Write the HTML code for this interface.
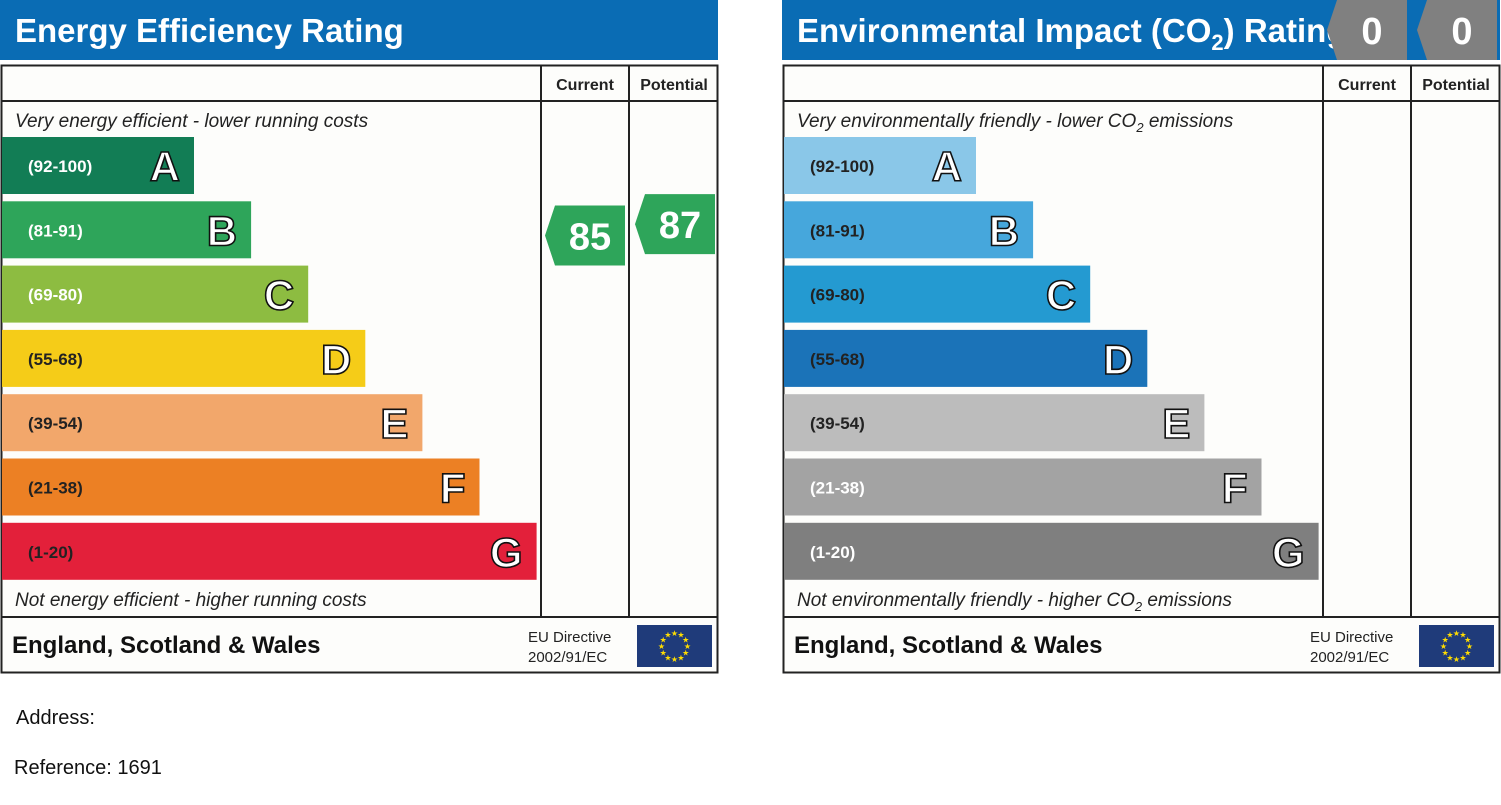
<!DOCTYPE html>
<html><head><meta charset="utf-8"><style>
html,body{margin:0;padding:0;background:#fff;width:1501px;height:805px;overflow:hidden;font-family:"Liberation Sans",sans-serif}
svg text{font-family:"Liberation Sans",sans-serif}
</style></head><body>
<svg id="chart" width="1501" height="805" xmlns="http://www.w3.org/2000/svg">
<rect width="1501" height="805" fill="#fff"/>
</svg>
<script>
const bandLetters = ['A','B','C','D','E','F','G'];
const bandRanges = ['(92-100)','(81-91)','(69-80)','(55-68)','(39-54)','(21-38)','(1-20)'];
const bandLo = [92,81,69,55,39,21,1];
const bandHi = [100,91,80,68,54,38,20];
const eeColors = ['#127d55','#2ea55a','#8dbc41','#f5cc18','#f2a76b','#ec8024','#e3203a'];
const eiColors = ['#8ac7e8','#46a7dc','#249ad1','#1b73b8','#bcbcbc','#a3a3a3','#7f7f7f'];
const eeLabelDark = [false,false,false,true,true,true,true];
const eiLabelDark = [true,true,true,true,true,false,false];
const eeCurrent = 85, eePotential = 87;
const eiCurrent = 0, eiPotential = 0;

const NS='http://www.w3.org/2000/svg';
const svg=document.getElementById('chart');
function mk(tag,attrs,parent,text){const e=document.createElementNS(NS,tag);for(const k in attrs)e.setAttribute(k,attrs[k]);if(text!==undefined)e.textContent=text;(parent||svg).appendChild(e);return e;}

const bandTop=i=>137+i*64.3;
const bandH=57;
const barW=i=>192+i*57.1;
function valueY(v){
  for(let i=0;i<7;i++){if(v>=bandLo[i]&&v<=bandHi[i]){const f=(v-bandLo[i])/(bandHi[i]-bandLo[i]);return bandTop(i)+bandH-f*bandH;}}
  return 30;
}
function arrow(x,cy,val,color,name){
  const g=mk('g',{});
  
  
  mk('polygon',{points:`${x},${cy} ${x+10},${cy-30} ${x+80},${cy-30} ${x+80},${cy+30} ${x+10},${cy+30}`,fill:color},g);
  mk('text',{x:x+45,y:cy+14,'text-anchor':'middle','font-size':38,'font-weight':'bold',fill:'#fff'},g,String(val));
}
function panel(ox,title,colors,dark,cur,pot,topText,botText,arrowColor,prefix){
  const g=mk('g',{});
  
  
  mk('rect',{x:ox,y:0,width:718,height:60,fill:'#0a6cb4'},g);
  const t=mk('text',{x:ox+15,y:42,'font-size':33,'font-weight':'bold',fill:'#fff'},g);
  t.innerHTML=title;
  
  
  mk('rect',{x:ox+1.5,y:65.5,width:716,height:607,fill:'#fdfdfb',stroke:'#222','stroke-width':2},g);
  mk('line',{x1:ox+1,y1:101,x2:ox+718,y2:101,stroke:'#222','stroke-width':2},g);
  mk('line',{x1:ox+1,y1:617,x2:ox+718,y2:617,stroke:'#222','stroke-width':2},g);
  mk('line',{x1:ox+541,y1:65,x2:ox+541,y2:617,stroke:'#222','stroke-width':2},g);
  mk('line',{x1:ox+629,y1:65,x2:ox+629,y2:617,stroke:'#222','stroke-width':2},g);
  mk('text',{x:ox+585,y:90,'text-anchor':'middle','font-size':16,'font-weight':'bold',fill:'#222'},g,'Current');
  mk('text',{x:ox+674,y:90,'text-anchor':'middle','font-size':16,'font-weight':'bold',fill:'#222'},g,'Potential');
  const tt=mk('text',{x:ox+15,y:127,'font-size':19,'font-style':'italic',fill:'#222'},g);tt.innerHTML=topText;
  const bt=mk('text',{x:ox+15,y:606,'font-size':19,'font-style':'italic',fill:'#222'},g);bt.innerHTML=botText;
  for(let i=0;i<7;i++){
    const y=bandTop(i);
    const r=mk('rect',{x:ox+2,y:y,width:barW(i),height:bandH,fill:colors[i]},g);
    
    
    mk('text',{x:ox+28,y:y+35,'font-size':17,'font-weight':'bold',fill:dark[i]?'#222':'#fff'},g,bandRanges[i]);
    mk('text',{x:ox+2+barW(i)-14,y:y+44,'text-anchor':'end','font-size':42,'font-weight':'bold',fill:'#fff',stroke:'#111','stroke-width':1.6},g,bandLetters[i]);
  }
  mk('text',{x:ox+12,y:653,'font-size':24,'font-weight':'bold',fill:'#111'},g,'England, Scotland & Wales');
  mk('text',{x:ox+528,y:642,'font-size':15,fill:'#222'},g,'EU Directive');
  mk('text',{x:ox+528,y:662,'font-size':15,fill:'#222'},g,'2002/91/EC');
  const fl=mk('g',{},g);
  
  
  mk('rect',{x:ox+637,y:625,width:75,height:42,fill:'#1f3b7a'},fl);
  for(let k=0;k<12;k++){const a=k*Math.PI/6;mk('text',{x:ox+674.5+13*Math.cos(a),y:649+13*Math.sin(a),'text-anchor':'middle','font-size':8,fill:'#ffdd00'},fl,'★');}
  arrow(ox+545,valueY(cur),cur,arrowColor,prefix+'-current-marker');
  arrow(ox+635,valueY(pot),pot,arrowColor,prefix+'-potential-marker');
}
panel(0,'Energy Efficiency Rating',eeColors,eeLabelDark,eeCurrent,eePotential,'Very energy efficient - lower running costs','Not energy efficient - higher running costs','#2ea55a','ee');
panel(782,'Environmental Impact (CO<tspan font-size="22" dy="8">2</tspan><tspan dy="-8">) Rating</tspan>',eiColors,eiLabelDark,eiCurrent,eiPotential,'Very environmentally friendly - lower CO<tspan font-size="13" dy="5">2</tspan><tspan dy="-5"> emissions</tspan>','Not environmentally friendly - higher CO<tspan font-size="13" dy="5">2</tspan><tspan dy="-5"> emissions</tspan>','#808080','ei');
// white backing behind top-right gray markers
const a1=mk('text',{x:16,y:724,'font-size':20,fill:'#111'},svg,'Address:');


const a2=mk('text',{x:14,y:774,'font-size':20,fill:'#111'},svg,'Reference: 1691');


</script>
</body></html>
